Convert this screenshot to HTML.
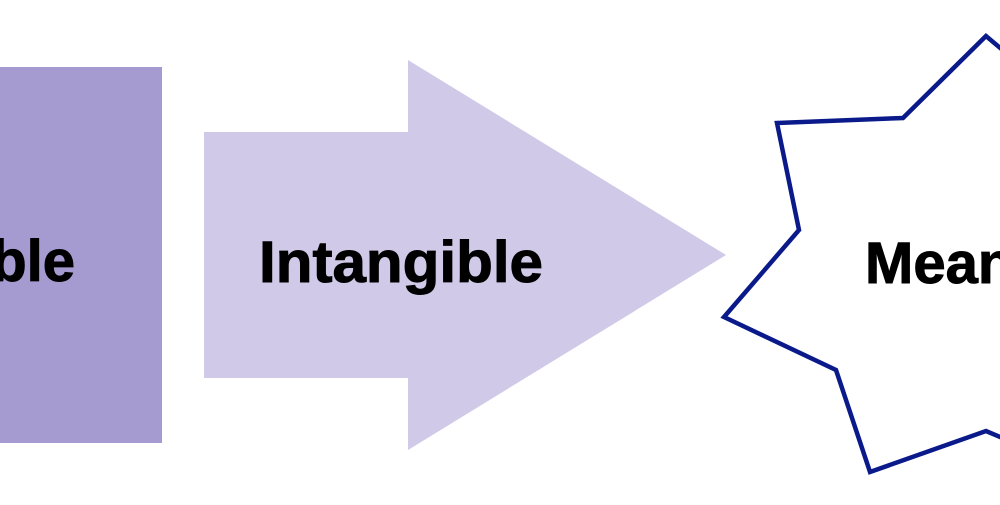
<!DOCTYPE html>
<html><head><style>
html,body{margin:0;padding:0;background:#fff;}
body{width:1000px;height:500px;overflow:hidden;}
</style></head><body>
<svg width="1000" height="500" viewBox="0 0 1000 500" xmlns="http://www.w3.org/2000/svg">
<rect x="0" y="67" width="162" height="376" fill="#a59bd1"/>
<polygon points="204,132 408,132 408,60 726,255 408,450 408,378 204,378" fill="#d0cae8"/>
<polygon points="986,36 903,118 777,123 799,230 724,317 836,370 870,472 986,431 1012,442 1012,58" fill="#fff" stroke="#0b1a8a" stroke-width="4.5" stroke-linejoin="miter"/>
<g font-family="Liberation Sans, sans-serif" font-weight="bold" fill="#000" stroke="#000" stroke-width="1">
<text x="75" y="281" font-size="58" text-anchor="end">ble</text>
<text x="259" y="282" font-size="58" textLength="284" lengthAdjust="spacingAndGlyphs">Intangible</text>
<text x="865" y="283" font-size="58">Meaning</text>
</g>
</svg>
</body></html>
